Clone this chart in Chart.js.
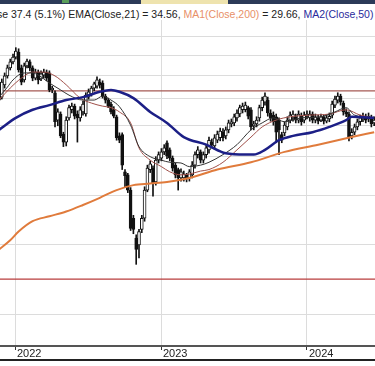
<!DOCTYPE html>
<html>
<head>
<meta charset="utf-8">
<script src="https://cdn.jsdelivr.net/npm/chart.js@4.4.1/dist/chart.umd.min.js"></script>
<style>
  html, body { margin: 0; padding: 0; background: #fff; }
  body { width: 375px; height: 366px; position: relative; overflow: hidden; font-family: Arial, "Liberation Sans", sans-serif; }
  #topbar { position: absolute; left: 0; top: 0; width: 375px; height: 4px; background: #2c3a58; }
  #tab { position: absolute; left: 141px; top: 0; width: 87px; height: 4px; background: #eee3ae; }
  #icon { position: absolute; left: 62px; top: 0; width: 7px; height: 3px; background: #5a9e5a; }
  #legend { position: absolute; left: -3px; top: 9.4px; font-size: 10.5px; line-height: 10.5px; white-space: nowrap; color: #222; }
  .ma1 { color: #e89068; }
  .ma2 { color: #2a2a9c; }
  #wrap { position: absolute; left: 0; top: 20px; width: 375px; height: 346px; }
  #baseline { position: absolute; left: 0; top: 359px; width: 375px; height: 1.5px; background: #222; }
</style>
</head>
<body>
<div id="topbar"></div><div id="tab"></div><div id="icon"></div>
<div id="legend">se 37.4 (5.1%) EMA(Close,21) = 34.56, <span class="ma1">MA1(Close,200)</span> = 29.66, <span class="ma2">MA2(Close,50)</span> =</div>
<div id="wrap"><canvas id="c_price" width="375" height="346"></canvas></div>
<div id="baseline"></div>
<script>
// weekly candles, index = week number
const opens = [
  34.7, 35.3, 37.9, 39.9, 41.8, 43.3, 44.5, 45.8, 41.8, 39.0,
  42.3, 43.3, 41.8, 39.4, 40.8, 39.2, 40.1, 40.8, 40.6, 36.8,
  36.2, 30.9, 32.0, 28.5, 27.2, 31.3, 32.8, 33.5, 32.0, 31.3,
  32.4, 32.0, 35.3, 35.9, 37.2, 37.6, 38.5, 38.3, 35.5, 34.7,
  33.9, 32.8, 31.5, 28.2, 28.4, 22.9, 22.5, 20.6, 17.5, 15.6,
  15.0, 16.4, 17.5, 20.6, 23.2, 23.4, 21.6, 24.5, 24.8, 25.7,
  27.1, 26.0, 24.8, 23.8, 23.2, 22.1, 22.1, 22.5, 22.1, 22.5,
  23.8, 25.3, 25.7, 24.5, 25.3, 26.0, 27.2, 26.6, 27.5, 27.9,
  28.8, 28.2, 29.2, 30.2, 30.4, 31.3, 32.0, 32.8, 32.8, 33.2,
  32.8, 29.9, 30.2, 31.3, 33.2, 34.3, 34.7, 32.2, 31.8, 31.5,
  30.9, 28.4, 28.7, 29.7, 30.9, 31.3, 31.5, 30.9, 31.6, 30.9,
  31.6, 31.3, 32.0, 30.9, 31.3, 30.9, 31.5, 30.7, 31.1, 31.8,
  33.7, 34.7, 35.5, 34.1, 32.4, 32.0, 28.2, 28.8, 29.7, 30.6,
  31.1, 31.5, 31.1, 31.3, 30.4
]
const closes = [
  35.7, 38.5, 39.9, 41.8, 43.3, 44.5, 46.1, 41.3, 38.5, 42.3,
  43.5, 41.8, 39.4, 40.8, 39.0, 40.4, 40.8, 39.4, 36.8, 37.2,
  30.6, 32.4, 28.2, 27.2, 30.9, 33.2, 33.5, 31.6, 31.3, 32.8,
  33.9, 35.7, 36.4, 37.2, 38.1, 39.0, 37.9, 35.5, 34.7, 33.5,
  32.4, 31.6, 27.9, 27.5, 23.8, 22.4, 20.6, 16.5, 16.4, 14.6,
  16.2, 17.5, 20.6, 23.4, 24.0, 21.5, 24.5, 25.3, 25.7, 26.3,
  25.1, 24.8, 23.4, 22.5, 22.1, 22.9, 22.6, 22.0, 22.9, 23.8,
  25.3, 26.0, 24.5, 25.3, 26.3, 27.5, 26.8, 27.9, 28.5, 29.0,
  27.9, 29.2, 30.4, 30.6, 31.5, 32.2, 33.2, 33.5, 33.7, 31.6,
  29.7, 30.2, 30.9, 33.2, 34.7, 35.5, 32.2, 31.3, 30.6, 28.8,
  29.2, 27.5, 30.0, 30.9, 31.8, 32.0, 30.9, 32.0, 30.6, 31.8,
  32.0, 32.0, 30.9, 31.5, 30.7, 31.5, 30.7, 31.3, 31.6, 33.9,
  34.9, 35.5, 34.3, 32.4, 32.0, 27.9, 28.8, 29.7, 30.6, 31.3,
  31.6, 30.9, 31.6, 30.2, 30.9
]
const highs = [
  36.4, 39.2, 40.6, 42.5, 44.0, 45.3, 47.0, 46.7, 42.5, 43.0,
  44.0, 43.8, 42.3, 41.5, 41.3, 41.1, 41.5, 41.3, 41.1, 37.6,
  36.6, 33.0, 32.4, 28.8, 31.5, 33.7, 34.1, 33.9, 32.6, 33.4,
  34.5, 36.2, 37.0, 37.6, 38.5, 39.7, 39.2, 38.8, 35.9, 35.1,
  34.3, 33.4, 31.8, 28.7, 28.7, 23.2, 22.7, 20.9, 17.8, 15.9,
  16.4, 17.8, 21.0, 23.8, 24.4, 23.7, 25.0, 25.7, 26.2, 26.8,
  27.4, 26.3, 25.1, 24.1, 23.4, 23.3, 23.0, 22.7, 23.2, 24.3,
  25.7, 26.5, 26.0, 25.7, 26.8, 28.0, 27.7, 28.4, 29.0, 29.5,
  29.4, 29.7, 30.9, 31.1, 32.0, 32.8, 33.7, 34.1, 34.3, 33.5,
  33.2, 30.7, 31.5, 33.7, 35.3, 36.2, 35.3, 32.8, 32.4, 32.0,
  31.3, 28.8, 30.6, 31.5, 32.4, 32.6, 32.0, 32.6, 32.2, 32.4,
  32.6, 32.6, 32.4, 32.0, 31.8, 32.0, 31.8, 31.8, 32.2, 34.5,
  35.5, 36.2, 35.9, 34.5, 33.0, 32.4, 29.4, 30.2, 31.1, 31.8,
  32.2, 32.0, 32.2, 31.8, 31.5
]
const lows = [
  34.1, 34.9, 37.2, 39.4, 41.3, 42.8, 44.0, 40.8, 37.9, 38.5,
  41.8, 41.1, 38.8, 39.0, 38.1, 38.8, 39.4, 38.8, 36.4, 36.2,
  29.7, 29.9, 27.9, 26.5, 26.6, 30.9, 32.2, 31.1, 27.2, 30.7,
  31.8, 31.6, 34.9, 35.5, 36.6, 37.2, 37.2, 35.1, 34.1, 33.2,
  32.0, 31.3, 27.5, 27.1, 23.2, 21.0, 20.3, 16.3, 16.0, 13.4,
  13.9, 16.1, 17.2, 20.4, 22.8, 19.9, 21.2, 24.1, 24.4, 25.3,
  24.7, 24.4, 23.0, 22.1, 20.6, 21.7, 21.7, 21.6, 21.7, 22.1,
  23.4, 24.8, 24.1, 24.1, 24.8, 25.5, 26.3, 26.1, 27.1, 27.4,
  27.4, 27.7, 28.7, 29.7, 29.9, 30.7, 31.5, 32.2, 32.4, 31.1,
  29.2, 29.2, 29.7, 30.7, 32.6, 33.7, 31.6, 30.7, 30.0, 27.1,
  25.3, 27.1, 28.2, 29.2, 30.4, 30.7, 30.4, 30.4, 30.0, 30.4,
  31.1, 30.7, 30.4, 30.4, 30.2, 30.6, 30.2, 30.4, 30.6, 31.3,
  33.2, 34.1, 33.7, 31.8, 31.5, 27.4, 27.7, 28.4, 29.2, 30.0,
  30.6, 30.4, 30.6, 29.7, 29.9
]

// indicator lines at these weeks
const emaWeeks = [0, 3, 5, 9, 12, 14, 18, 22, 25, 30, 34, 37, 40, 43, 47, 50, 54, 58, 61, 65, 68, 72, 75, 80, 85, 90, 94, 98, 102, 108, 115, 120, 124, 127, 134]
const emaValues = [35.3, 37.4, 39.0, 40.6, 40.6, 40.1, 38.3, 36.8, 35.7, 34.7, 34.7, 35.5, 34.7, 33.4, 30.0, 26.5, 25.0, 24.5, 24.2, 24.1, 23.6, 23.8, 24.2, 25.3, 26.8, 29.2, 30.4, 31.3, 30.6, 31.3, 31.5, 32.4, 33.2, 31.8, 31.3]
const ma3Weeks = [0, 4, 8, 12, 16, 20, 24, 29, 33, 37, 40, 43, 47, 50, 54, 58, 61, 65, 68, 72, 75, 80, 85, 90, 94, 99, 104, 111, 118, 124, 129, 134]
const ma3Values = [34.7, 37.2, 39.4, 40.8, 40.8, 39.9, 37.9, 35.1, 34.1, 33.5, 33.2, 32.4, 30.4, 26.3, 24.5, 23.6, 22.9, 22.5, 22.6, 23.0, 23.2, 24.2, 26.0, 28.0, 29.7, 30.9, 31.5, 31.8, 32.0, 32.8, 31.8, 31.3]
const ma50Weeks = [0, 6, 12, 18, 24, 30, 36, 40, 43, 48, 54, 60, 66, 74, 81, 88, 91, 95, 100, 105, 112, 118, 124, 126, 134]
const ma50Values = [29.2, 31.3, 32.8, 33.7, 34.7, 35.3, 36.4, 36.8, 36.4, 35.1, 32.4, 30.4, 28.0, 26.8, 25.5, 25.3, 25.3, 26.0, 27.5, 28.2, 28.8, 29.7, 30.9, 31.5, 31.3]
const ma200Weeks = [0, 4, 7, 12, 18, 24, 30, 36, 42, 48, 54, 60, 68, 78, 90, 102, 114, 126, 134]
const ma200Values = [14.6, 15.4, 16.2, 17.2, 17.7, 18.2, 18.9, 19.7, 20.6, 21.2, 21.4, 21.6, 22.1, 23.2, 24.2, 25.7, 26.8, 28.0, 28.8]

// horizontal levels and axis ticks
const levels = [36.6, 12.3]
const levelColors = ['#a65a55', '#b83c3c']
const priceTicks = [10, 15, 20, 25, 30, 35, 40, 45, 50]
const yearLabels = ['2022', '2023', '2024']
const yearWeeks = [5.71, 57.86, 110]
const weekMin = 0.35, weekMax = 134.3

const toPoints = (xs, ys) => xs.map((x, i) => ({ x: x, y: ys[i] }))
const isUp = i => closes[i] >= opens[i]

const wicks = lows.map((l, i) => ({ x: i, y: [l, highs[i]] }))
const bodies = opens.map((o, i) => ({ x: i, y: [Math.min(o, closes[i]), Math.max(o, closes[i])] }))

function lineSet(data, color, width, order) {
    return {
        type: 'line', data: data, borderColor: color, borderWidth: width,
        pointRadius: 0, cubicInterpolationMode: 'monotone', fill: false, order: order
    }
}

var datasets = []
levels.forEach((v, k) => {
    datasets.push(lineSet([{ x: weekMin, y: v }, { x: weekMax, y: v }], levelColors[k], 1.2, 9))
})
datasets.push({
    type: 'bar', data: wicks, backgroundColor: '#111', barThickness: 1,
    grouped: false, order: 8
})
datasets.push({
    type: 'bar', data: bodies,
    backgroundColor: c => isUp(c.dataIndex) ? '#fff' : '#111',
    borderColor: '#111', borderWidth: 1, borderSkipped: false,
    barThickness: 3, grouped: false, order: 7
})
datasets.push(lineSet(toPoints(ma200Weeks, ma200Values), '#e07b3c', 2, 4))
datasets.push(lineSet(toPoints(ma3Weeks, ma3Values), '#a0504a', 1, 3))
datasets.push(lineSet(toPoints(emaWeeks, emaValues), '#333', 1, 2))
datasets.push(lineSet(toPoints(ma50Weeks, ma50Values), '#1c1f86', 2.5, 1))

var ctx = document.getElementById('c_price').getContext('2d')
new Chart(ctx, {
    type: 'bar',
    data: { datasets: datasets },
    options: {
        responsive: false,
        animation: false,
        devicePixelRatio: 1,
        layout: { padding: 0 },
        plugins: { legend: { display: false }, tooltip: { enabled: false } },
        scales: {
            x: {
                type: 'linear', min: weekMin, max: weekMax, offset: false,
                afterBuildTicks: s => { s.ticks = yearWeeks.map(v => ({ value: v })) },
                ticks: {
                    callback: (v, i) => yearLabels[i],
                    align: 'start', labelOffset: 2, padding: -3,
                    maxRotation: 0, autoSkip: false,
                    color: '#222', font: { size: 11, family: 'Arial' }
                },
                grid: { offset: false, color: '#dcdcdc', tickColor: '#333', tickLength: 4 },
                border: { color: '#555', width: 2 },
                afterFit: s => { s.height = 20 }
            },
            y: {
                type: 'logarithmic', min: 8.35, max: 55.17, position: 'left',
                afterBuildTicks: s => { s.ticks = priceTicks.map(v => ({ value: v })) },
                ticks: { display: false },
                grid: { color: '#dcdcdc', drawTicks: false },
                border: { display: false },
                afterFit: s => { s.width = 0 }
            }
        }
    }
})
</script>
</body>
</html>
